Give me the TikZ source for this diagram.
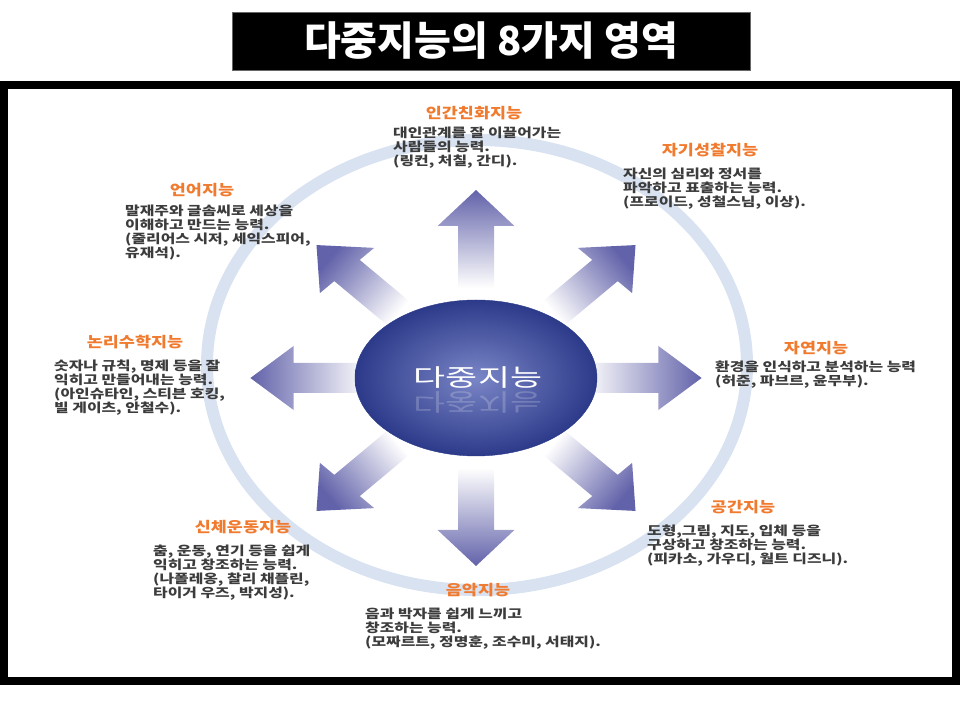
\documentclass[tikz,border=0pt]{standalone}
\usepackage{fontspec}
\setmainfont{Noto Sans CJK KR}
\newfontfamily\widefont[FakeStretch=1.2]{Noto Sans CJK KR}
\newfontfamily\bodyfont[FakeStretch=1.27]{Noto Sans CJK KR}
\newfontfamily\corefont[FakeStretch=1.45]{Noto Sans CJK KR}
\usetikzlibrary{shapes.geometric}
\definecolor{ringblue}{HTML}{D9E2F1}
\definecolor{arrowblue}{HTML}{6262AA}
\definecolor{coredark}{HTML}{2C3A8A}
\definecolor{corelight}{HTML}{7A86C6}
\definecolor{headorange}{HTML}{F07A2E}
\definecolor{bodygray}{HTML}{3C3C3C}
\tikzset{
  areahead/.style={text=headorange, inner sep=0pt,
    font=\widefont\bfseries\fontsize{14.5}{14.5}\selectfont},
  areabody/.style={text=bodygray, inner sep=0pt, align=left, anchor=north west,
    font=\bodyfont\bfseries\fontsize{12.5}{13.8}\selectfont},
}
\begin{document}
\begin{tikzpicture}[x=1pt,y=1pt]
    \useasboundingbox (0,0) rectangle (960,720);
    % title bar and frame
    \node[fill=black, draw=black!60, minimum width=518pt, minimum height=58pt,
      text=white, font=\bfseries\fontsize{40}{40}\selectfont] (title) at (491,679) {다중지능의 8가지 영역};
    \draw[line width=8pt] (4,39) rectangle (956,635);
    % ring and arrows
    \draw[ringblue, line width=12pt] (477,355) ellipse [x radius=270, y radius=225];
    \foreach \a in {0,45,...,315}{
      \pgfmathsetmacro\sa{atan2(sin(\a),1.2*cos(\a))-90}
      \begin{scope}[shift={(476,342)}, xscale=1.2, rotate=\a]
        \shade[top color=arrowblue, bottom color=white, shading angle=\sa]
          (90,-15) -- (152,-15) -- (152,-32) -- (188,0) -- (152,32) -- (152,15) -- (90,15) -- cycle;
      \end{scope}
    }
    \node[ellipse, minimum width=242pt, minimum height=156pt, inner color=corelight,
      outer color=coredark, draw=coredark] (core) at (476,342) {};
    \node[text=white, font=\corefont\fontsize{24}{24}\selectfont] (corelabel) at (478,342) {다중지능};
    \begin{scope}[shift={(478,318)}, yscale=-1]
      \node[transform shape, text=white, opacity=0.2, font=\corefont\fontsize{24}{24}\selectfont] (coremirror) at (0,0) {다중지능};
    \end{scope}
    % eight areas
    \node[areahead] (h1) at (474,607) {인간친화지능};
    \node[areabody] (b1) at (393,593) {대인관계를 잘 이끌어가는\\사람들의 능력.\\(링컨, 처칠, 간디).};
    \node[areahead] (h2) at (710,570) {자기성찰지능};
    \node[areabody] (b2) at (623,552) {자신의 심리와 정서를\\파악하고 표출하는 능력.\\(프로이드, 성철스님, 이상).};
    \node[areahead] (h3) at (202,530) {언어지능};
    \node[areabody] (b3) at (125,515) {말재주와 글솜씨로 세상을\\이해하고 만드는 능력.\\(줄리어스 시저, 세익스피어,\\유재석).};
    \node[areahead] (h4) at (135,378) {논리수학지능};
    \node[areabody] (b4) at (54,360) {숫자나 규칙, 명제 등을 잘\\익히고 만들어내는 능력.\\(아인슈타인, 스티븐 호킹,\\빌 게이츠, 안철수).};
    \node[areahead] (h5) at (816,372) {자연지능};
    \node[areabody] (b5) at (715,359) {환경을 인식하고 분석하는 능력\\(허준, 파브르, 윤무부).};
    \node[areahead] (h6) at (743,213) {공간지능};
    \node[areabody] (b6) at (647,195) {도형,그림, 지도, 입체 등을\\구상하고 창조하는 능력.\\(피카소, 가우디, 월트 디즈니).};
    \node[areahead] (h7) at (243,193) {신체운동지능};
    \node[areabody] (b7) at (153,175) {춤, 운동, 연기 등을 쉽게\\익히고 창조하는 능력.\\(나폴레옹, 찰리 채플린,\\타이거 우즈, 박지성).};
    \node[areahead] (h8) at (478,130) {음악지능};
    \node[areabody] (b8) at (365,112) {음과 박자를 쉽게 느끼고\\창조하는 능력.\\(모짜르트, 정명훈, 조수미, 서태지).};
\end{tikzpicture}
\end{document}
